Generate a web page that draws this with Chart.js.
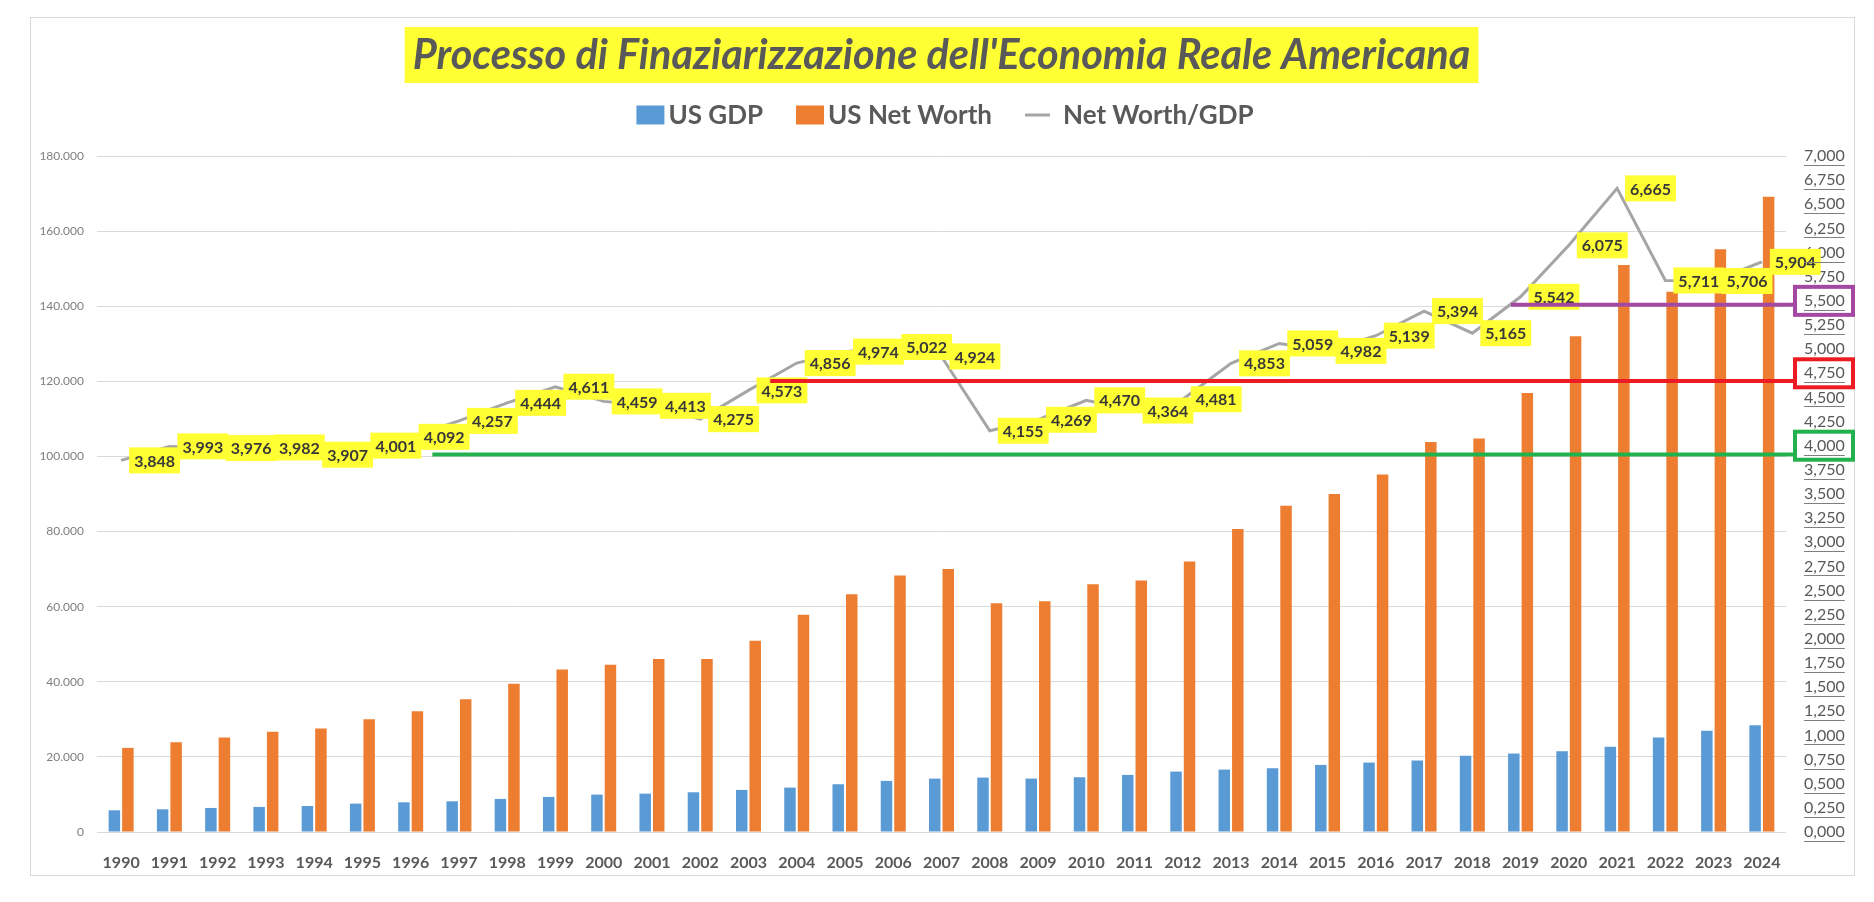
<!DOCTYPE html>
<html>
<head>
<meta charset="utf-8">
<script src="https://cdn.jsdelivr.net/npm/chart.js@4.4.1/dist/chart.umd.min.js"></script>
<style>
	html, body { margin: 0; padding: 0; background: #fff; }
	canvas { display: block; }
</style>
</head>
<body>
<canvas id="chart" width="1874" height="902"></canvas>
<script>
const years = ['1990', '1991', '1992', '1993', '1994', '1995', '1996', '1997', '1998', '1999',
	'2000', '2001', '2002', '2003', '2004', '2005', '2006', '2007', '2008', '2009',
	'2010', '2011', '2012', '2013', '2014', '2015', '2016', '2017', '2018', '2019',
	'2020', '2021', '2022', '2023', '2024'];

const usGdp = [5780, 6050, 6400, 6670, 6930, 7560, 7910, 8180, 8800, 9340,
	9960, 10220, 10580, 11200, 11820, 12720, 13600, 14220, 14490, 14220,
	14580, 15200, 16090, 16620, 16980, 17870, 18490, 19020, 20270, 20890,
	21510, 22670, 25160, 26930, 28450];

const usNetWorth = [22400, 23920, 25160, 26670, 27560, 30050, 32180, 35380, 39470, 43290,
	44540, 46050, 46050, 50940, 57870, 63300, 68300, 70000, 60900, 61430,
	66000, 67000, 72000, 80700, 86900, 89970, 95200, 103840, 104800, 116900,
	132000, 150950, 143850, 155200, 169150];

const netWorthToGdp = [3.848, 3.993, 3.976, 3.982, 3.907, 4.001, 4.092, 4.257, 4.444, 4.611,
	4.459, 4.413, 4.275, 4.573, 4.856, 4.974, 5.022, 4.924, 4.155, 4.269,
	4.470, 4.364, 4.481, 4.853, 5.059, 4.982, 5.139, 5.394, 5.165, 5.542,
	6.075, 6.665, 5.711, 5.706, 5.904];

// hand-drawn guide lines: ratio level, starting category (fractional index), boxed tick on right axis
const guideLevels = [3.91, 4.67, 5.46];
const guideStarts = [6.45, 13.45, 28.8];
const guideTicks = [4.0, 4.75, 5.5];
const guideColors = ['#22B14C', '#ED1C24', '#A349A4'];

const titleText = "Processo di Finaziarizzazione dell'Economia Reale Americana";

const FONT = 'Lato';
const TEXT_GRAY = '#595959';
const YELLOW = '#FFFF33';

const leftNumber = v => String(Math.round(v)).replace(/\B(?=(\d{3})+(?!\d))/g, '.');
const ratioNumber = v => v.toFixed(3).replace('.', ',');

const ctx = document.querySelector('#chart').getContext('2d');

// frame, title and legend
const headerPlugin = {
	id: 'header',
	beforeDraw(chart) {
		const c = chart.ctx;
		const area = chart.chartArea;
		c.save();
		c.fillStyle = '#fff';
		c.fillRect(0, 0, chart.width, chart.height);
		c.strokeStyle = '#D9D9D9';
		c.lineWidth = 1;
		c.strokeRect(30.5, 17.5, 1824, 858);

		// title with yellow box
		let size = 40;
		c.font = `italic bold ${size}px ${FONT}`;
		size = size * 1058 / c.measureText(titleText).width;
		c.font = `italic bold ${size}px ${FONT}`;
		const tw = c.measureText(titleText).width;
		const cx = (area.left + area.right) / 2;
		c.fillStyle = YELLOW;
		c.fillRect(cx - tw / 2 - 8, 27, tw + 16, 56);
		c.fillStyle = TEXT_GRAY;
		c.textAlign = 'left';
		c.textBaseline = 'middle';
		c.fillText(titleText, cx - tw / 2, 56);

		// legend
		c.font = `bold 26px ${FONT}`;
		const items = [
			{ kind: 'box', color: '#5B9BD5', text: 'US GDP' },
			{ kind: 'box', color: '#ED7D31', text: 'US Net Worth' },
			{ kind: 'line', color: '#A5A5A5', text: 'Net Worth/GDP' }
		];
		const markW = 28, gapBox = 4, gapLine = 10, gapItem = 33;
		let total = 0;
		items.forEach((it, i) => {
			it.w = markW + (it.kind === 'box' ? gapBox : gapLine) + c.measureText(it.text).width;
			total += it.w + (i ? gapItem : 0);
		});
		let x = 945 - total / 2;
		const ly = 115;
		items.forEach(it => {
			if (it.kind === 'box') {
				c.fillStyle = it.color;
				c.fillRect(x, ly - 9.5, markW, 19);
			} else {
				c.strokeStyle = it.color;
				c.lineWidth = 3;
				c.beginPath();
				c.moveTo(x, ly);
				c.lineTo(x + markW - 3, ly);
				c.stroke();
			}
			c.fillStyle = TEXT_GRAY;
			c.fillText(it.text, x + markW + (it.kind === 'box' ? gapBox : gapLine), ly + 1);
			x += it.w + gapItem;
		});
		c.restore();
	}
};

// yellow value labels to the right of each ratio point
const ratioLabelsPlugin = {
	id: 'ratioLabels',
	afterDatasetsDraw(chart) {
		const c = chart.ctx;
		const meta = chart.getDatasetMeta(0);
		c.save();
		c.font = `bold 16px ${FONT}`;
		c.textAlign = 'left';
		c.textBaseline = 'middle';
		meta.data.forEach((pt, i) => {
			const text = ratioNumber(netWorthToGdp[i]);
			const w = c.measureText(text).width + 10;
			const x = pt.x + 8;
			c.fillStyle = YELLOW;
			c.fillRect(x, pt.y - 13, w, 26);
			c.fillStyle = '#383838';
			c.fillText(text, x + 5, pt.y + 1);
		});
		c.restore();
	}
};

// underlined right ticks + coloured guide lines and boxes
const guidesPlugin = {
	id: 'guides',
	afterDraw(chart) {
		const c = chart.ctx;
		const xs = chart.scales.x;
		const y1 = chart.scales.y1;
		const area = chart.chartArea;
		c.save();

		c.font = `16px ${FONT}`;
		c.strokeStyle = '#7F7F7F';
		c.lineWidth = 1;
		y1.ticks.forEach((t, i) => {
			const y = Math.round(y1.getPixelForTick(i)) + 9.5;
			const lx = y1.left + 18;
			const w = c.measureText(ratioNumber(t.value)).width;
			c.beginPath();
			c.moveTo(lx, y);
			c.lineTo(lx + w, y);
			c.stroke();
		});

		const step = xs.getPixelForValue(1) - xs.getPixelForValue(0);
		guideLevels.forEach((level, i) => {
			const y = y1.getPixelForValue(level);
			const s = guideStarts[i];
			const x0 = xs.getPixelForValue(Math.floor(s)) + (s - Math.floor(s)) * step;
			const boxLeft = area.right + 9;
			const ty = y1.getPixelForValue(guideTicks[i]);
			c.strokeStyle = guideColors[i];
			c.lineWidth = 4;
			c.beginPath();
			c.moveTo(x0, y);
			c.lineTo(boxLeft, y);
			c.stroke();
			c.strokeRect(boxLeft, ty - 14, 58, 28);
		});
		c.restore();
	}
};

const chart = new Chart(ctx, {
	data: {
		labels: years,
		datasets: [
			{
				type: 'line',
				label: 'Net Worth/GDP',
				data: netWorthToGdp,
				yAxisID: 'y1',
				borderColor: '#A5A5A5',
				borderWidth: 3,
				pointRadius: 0,
				tension: 0,
				order: 0
			},
			{
				type: 'bar',
				label: 'US GDP',
				data: usGdp,
				yAxisID: 'y',
				backgroundColor: '#5B9BD5',
				categoryPercentage: 0.56,
				barPercentage: 0.85,
				order: 1
			},
			{
				type: 'bar',
				label: 'US Net Worth',
				data: usNetWorth,
				yAxisID: 'y',
				backgroundColor: '#ED7D31',
				categoryPercentage: 0.56,
				barPercentage: 0.85,
				order: 2
			}
		]
	},
	options: {
		responsive: false,
		animation: false,
		layout: {
			padding: { top: 156, left: 30, right: 16, bottom: 26 }
		},
		plugins: {
			legend: { display: false },
			title: { display: false },
			tooltip: { enabled: false }
		},
		scales: {
			x: {
				grid: { display: false },
				border: { display: false },
				afterFit: s => { s.height = 44; },
				ticks: {
					autoSkip: false,
					maxRotation: 0,
					padding: 13,
					color: TEXT_GRAY,
					font: { family: FONT, size: 16, weight: 'bold' }
				}
			},
			y: {
				position: 'left',
				min: 0,
				max: 180000,
				afterFit: s => { s.width = 67; },
				border: { display: false },
				grid: { color: '#D9D9D9', lineWidth: 1, drawTicks: false },
				ticks: {
					stepSize: 20000,
					padding: 13,
					color: '#7F7F7F',
					font: { family: FONT, size: 12 },
					callback: v => leftNumber(v)
				}
			},
			y1: {
				position: 'right',
				min: 0,
				max: 7,
				z: 1,
				afterFit: s => { s.width = 72; },
				border: { display: false },
				grid: { display: false, drawTicks: false },
				ticks: {
					stepSize: 0.25,
					autoSkip: false,
					maxTicksLimit: 100,
					padding: 18,
					color: TEXT_GRAY,
					font: { family: FONT, size: 16 },
					callback: v => ratioNumber(v)
				}
			}
		}
	},
	plugins: [headerPlugin, ratioLabelsPlugin, guidesPlugin]
});
</script>
</body>
</html>
